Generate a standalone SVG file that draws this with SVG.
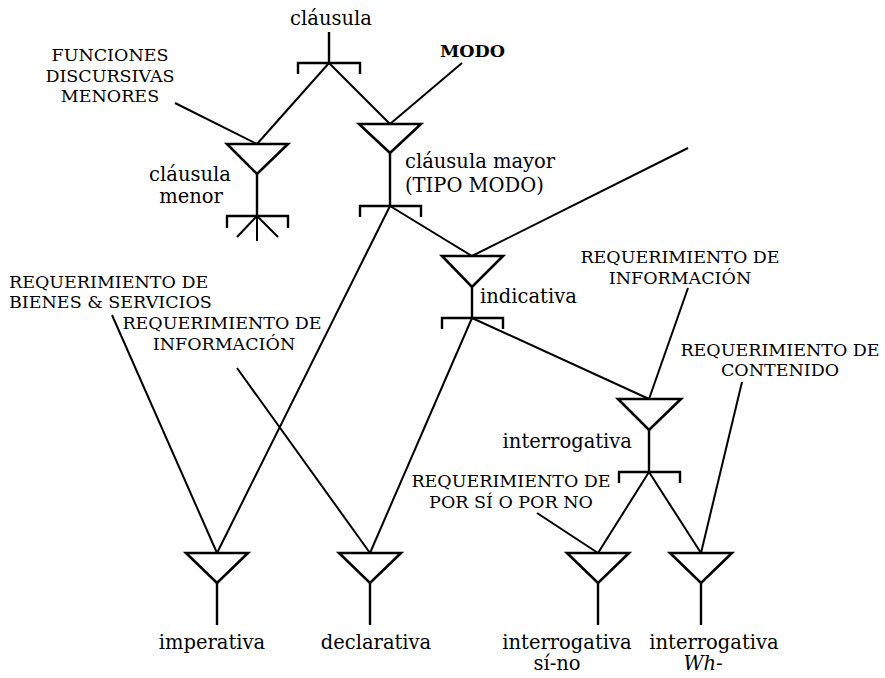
<svg xmlns="http://www.w3.org/2000/svg" width="885" height="678" viewBox="0 0 885 678">
  <style>
    .bg { fill: #ffffff; }
    .tri { fill: none; stroke: #000; stroke-width: 2.6; stroke-linejoin: miter; }
    .stem, .brk { fill: none; stroke: #000; stroke-width: 2.4; }
    .ln { fill: none; stroke: #000; stroke-width: 2; stroke-linecap: butt; }
    .lbl { font-family: "DejaVu Serif", "Liberation Serif", serif; font-size: 19.5px; fill: #000; }
    .cap { font-family: "DejaVu Serif", "Liberation Serif", serif; font-size: 17.5px; fill: #000; }
    .mid { text-anchor: middle; }
    .end { text-anchor: end; }
  </style>
  <rect class="bg" x="0" y="0" width="885" height="678"/>

  <!-- connectors between the system entries -->
  <g id="connectors">
    <!-- from cláusula -->
    <line class="ln" x1="329" y1="63" x2="257" y2="144"/>
    <line class="ln" x1="329" y1="63" x2="390" y2="124"/>
    <!-- from cláusula mayor -->
    <line class="ln" x1="390" y1="206" x2="217" y2="553"/>
    <line class="ln" x1="390" y1="206" x2="472" y2="256"/>
    <!-- from indicativa -->
    <line class="ln" x1="472" y1="318" x2="370" y2="553"/>
    <line class="ln" x1="472" y1="318" x2="649" y2="399"/>
    <!-- from interrogativa -->
    <line class="ln" x1="649" y1="472" x2="598" y2="553"/>
    <line class="ln" x1="649" y1="472" x2="701" y2="553"/>
    <!-- feature lines -->
    <line class="ln" x1="175" y1="103" x2="257" y2="144"/>
    <line class="ln" x1="462" y1="63" x2="390" y2="124"/>
    <line class="ln" x1="688" y1="148" x2="472" y2="256"/>
    <line class="ln" x1="112" y1="315" x2="217" y2="553"/>
    <line class="ln" x1="237" y1="368" x2="370" y2="553"/>
    <line class="ln" x1="688" y1="288" x2="649" y2="399"/>
    <line class="ln" x1="742" y1="382" x2="701" y2="553"/>
    <line class="ln" x1="537" y1="513" x2="598" y2="553"/>
  </g>

  <g id="clausula">
    <text class="lbl mid" x="331" y="25">cláusula</text>
    <line class="stem" x1="329" y1="32" x2="329" y2="63"/>
    <path class="brk" d="M298,74 V63 H360 V74"/>
  </g>

  <g id="funciones-discursivas">
    <text class="cap mid" x="110" y="61">FUNCIONES</text>
    <text class="cap mid" x="110" y="82">DISCURSIVAS</text>
    <text class="cap mid" x="110" y="102">MENORES</text>
  </g>

  <g id="modo">
    <text class="cap" x="440" y="57" font-weight="bold">MODO</text>
  </g>

  <g id="clausula-menor">
    <polygon class="tri" points="227,144 288,144 257,174"/>
    <line class="stem" x1="257" y1="174" x2="257" y2="216"/>
    <path class="brk" d="M227,228 V216 H288 V228"/>
    <line class="ln" x1="257" y1="216" x2="257" y2="241"/>
    <line class="ln" x1="257" y1="216" x2="237" y2="237"/>
    <line class="ln" x1="257" y1="216" x2="278" y2="237"/>
    <text class="lbl mid" x="190" y="181">cláusula</text>
    <text class="lbl mid" x="191" y="203">menor</text>
  </g>

  <g id="clausula-mayor">
    <polygon class="tri" points="359,124 421,124 390,153"/>
    <line class="stem" x1="390" y1="153" x2="390" y2="206"/>
    <path class="brk" d="M360,217 V206 H421 V217"/>
    <text class="lbl" x="405" y="168">cláusula mayor</text>
    <text class="lbl" x="405" y="192">(TIPO MODO)</text>
  </g>

  <g id="indicativa">
    <polygon class="tri" points="442,256 503,256 472,287"/>
    <line class="stem" x1="472" y1="287" x2="472" y2="318"/>
    <path class="brk" d="M442,329 V318 H503 V329"/>
    <text class="lbl" x="480" y="303">indicativa</text>
  </g>

  <g id="req-bienes-servicios">
    <text class="cap" x="9" y="288">REQUERIMIENTO DE</text>
    <text class="cap" x="9" y="308">BIENES &amp; SERVICIOS</text>
  </g>

  <g id="req-informacion-izq">
    <text class="cap mid" x="222" y="329">REQUERIMIENTO DE</text>
    <text class="cap mid" x="224" y="350">INFORMACIÓN</text>
  </g>

  <g id="req-informacion-der">
    <text class="cap mid" x="680" y="263">REQUERIMIENTO DE</text>
    <text class="cap mid" x="680" y="284">INFORMACIÓN</text>
  </g>

  <g id="req-contenido">
    <text class="cap mid" x="780" y="356">REQUERIMIENTO DE</text>
    <text class="cap mid" x="780" y="376">CONTENIDO</text>
  </g>

  <g id="interrogativa">
    <polygon class="tri" points="618,399 681,399 649,430"/>
    <line class="stem" x1="649" y1="430" x2="649" y2="472"/>
    <path class="brk" d="M619,483 V472 H680 V483"/>
    <text class="lbl end" x="632" y="448">interrogativa</text>
  </g>

  <g id="req-si-no">
    <text class="cap mid" x="511" y="487">REQUERIMIENTO DE</text>
    <text class="cap mid" x="511" y="508">POR SÍ O POR NO</text>
  </g>

  <g id="imperativa">
    <polygon class="tri" points="186,553 248,553 217,583"/>
    <line class="stem" x1="217" y1="583" x2="217" y2="625"/>
    <text class="lbl mid" x="212" y="649">imperativa</text>
  </g>

  <g id="declarativa">
    <polygon class="tri" points="339,553 401,553 370,583"/>
    <line class="stem" x1="370" y1="583" x2="370" y2="625"/>
    <text class="lbl mid" x="376" y="649">declarativa</text>
  </g>

  <g id="interrogativa-si-no">
    <polygon class="tri" points="567,553 629,553 598,583"/>
    <line class="stem" x1="598" y1="583" x2="598" y2="625"/>
    <text class="lbl mid" x="567" y="649">interrogativa</text>
    <text class="lbl mid" x="557" y="670">sí-no</text>
  </g>

  <g id="interrogativa-wh">
    <polygon class="tri" points="670,553 732,553 701,583"/>
    <line class="stem" x1="701" y1="583" x2="701" y2="625"/>
    <text class="lbl mid" x="714" y="649">interrogativa</text>
    <text class="lbl mid" x="703" y="670" font-style="italic">Wh-</text>
  </g>
</svg>
